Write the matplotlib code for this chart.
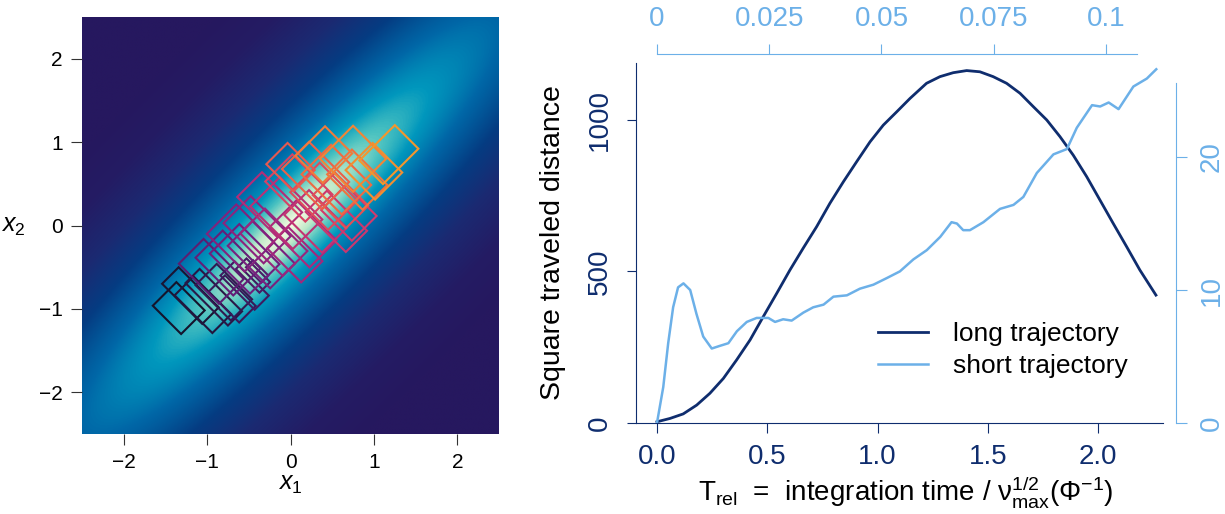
import numpy as np
import matplotlib
matplotlib.use("Agg")
import matplotlib.pyplot as plt
from matplotlib.colors import LinearSegmentedColormap
from matplotlib.patches import Polygon
from matplotlib.lines import Line2D

plt.rcParams['font.family'] = ['Liberation Sans', 'DejaVu Sans']
plt.rcParams['mathtext.fontset'] = 'custom'
plt.rcParams['mathtext.rm'] = 'Liberation Sans'
plt.rcParams['mathtext.it'] = 'Liberation Sans:italic'
plt.rcParams['mathtext.bf'] = 'Liberation Sans:bold'

# ---- left panel: correlated gaussian (sd along / across the diagonal)
sd_along = 1.5
sd_across = 0.3

# rectangles along the trajectory: centre x1, centre x2, half size along diagonal, half size across
rect_x1 = [-1.34, -1.20, -1.05, -0.92, -0.80, -0.70, -0.55, -0.45, -0.40,
           -0.95, -0.75, -0.55, -0.35, -0.60, -0.40, -0.20, 0.05, 0.15,
           -0.25, -0.05, 0.30, 0.55, 0.70, 0.10, 0.40, 0.60, 0.00, 0.30,
           0.55, 0.80, 0.40, 0.75, 1.00, 1.18]
rect_x2 = [-0.99, -0.84, -0.95, -0.86, -0.80, -0.88, -0.72, -0.60, -0.55,
           -0.55, -0.45, -0.40, -0.35, -0.15, -0.05, -0.20, -0.35, -0.10,
           0.25, 0.15, 0.05, 0.05, 0.15, 0.45, 0.35, 0.30, 0.70, 0.60,
           0.55, 0.55, 0.85, 0.80, 0.65, 0.85]
rect_a = [0.20, 0.14, 0.16, 0.12, 0.18, 0.14, 0.12, 0.09, 0.06,
          0.21, 0.23, 0.25, 0.21, 0.25, 0.23, 0.21, 0.18, 0.23,
          0.21, 0.25, 0.21, 0.18, 0.21, 0.23, 0.25, 0.19, 0.18, 0.23,
          0.25, 0.21, 0.25, 0.28, 0.23, 0.30]
rect_b = [0.24, 0.34, 0.32, 0.36, 0.30, 0.26, 0.29, 0.20, 0.13,
          0.34, 0.32, 0.34, 0.36, 0.32, 0.34, 0.36, 0.29, 0.34,
          0.34, 0.36, 0.32, 0.34, 0.26, 0.34, 0.32, 0.28, 0.23, 0.34,
          0.34, 0.30, 0.23, 0.28, 0.25, 0.20]

# ---- right panel: long trajectory (bottom / left axes)
T_long = [0, 0.059, 0.119, 0.180, 0.240, 0.301, 0.361, 0.422, 0.482, 0.543,
          0.603, 0.663, 0.724, 0.784, 0.845, 0.905, 0.966, 1.026, 1.087,
          1.147, 1.222, 1.283, 1.343, 1.404, 1.464, 1.524, 1.585, 1.646,
          1.706, 1.767, 1.827, 1.887, 1.948, 2.008, 2.068, 2.129, 2.189, 2.262]
D_long = [4, 15, 30, 59, 98, 147, 208, 274, 351, 428, 505, 577, 648, 725,
          796, 862, 928, 983, 1027, 1071, 1121, 1143, 1156, 1163, 1159, 1143,
          1121, 1088, 1044, 1000, 945, 884, 813, 736, 659, 582, 505, 422]

# short trajectory (top / right axes)
t_short = [0, 0.0014, 0.0025, 0.0036, 0.0047, 0.0059, 0.0074, 0.0088, 0.0103,
           0.0122, 0.0140, 0.0159, 0.0178, 0.0200, 0.0222, 0.0248, 0.0263,
           0.0281, 0.0300, 0.0326, 0.0348, 0.0371, 0.0393, 0.0423, 0.0452,
           0.0482, 0.0512, 0.0541, 0.0571, 0.0601, 0.0631, 0.0656, 0.0668,
           0.0682, 0.0697, 0.0727, 0.0764, 0.0794, 0.0816, 0.0846, 0.0883,
           0.0913, 0.0935, 0.0969, 0.0987, 0.1006, 0.1028, 0.1061, 0.1091, 0.1112]
D_short = [0, 2.7, 6.0, 8.7, 10.2, 10.5, 10.0, 8.2, 6.5, 5.6, 5.8, 6.0, 6.9,
           7.6, 7.9, 7.9, 7.6, 7.8, 7.7, 8.3, 8.7, 8.9, 9.5, 9.6, 10.1, 10.4,
           10.9, 11.4, 12.3, 13.0, 14.0, 15.1, 15.0, 14.5, 14.5, 15.1, 16.1,
           16.4, 17.0, 18.8, 20.2, 20.6, 22.2, 23.9, 23.8, 24.1, 23.6, 25.3,
           25.9, 26.6]

navy = '#0F2D6E'
light = '#6CB0E8'

bg_cmap = LinearSegmentedColormap.from_list('bg', [
    (0.0, '#F6FBE2'), (0.0625, '#BDE9C9'), (0.125, '#4DC3C1'), (0.19, '#0097BD'),
    (0.29, '#0067A7'), (0.44, '#053C82'), (0.60, '#1B2A72'), (0.80, '#241C64'),
    (1.0, '#26185F')])
sq_cmap = LinearSegmentedColormap.from_list('sq', [
    '#14142c', '#3b1b5e', '#6e1f7e', '#a8287c', '#d23a6c', '#ee6545', '#f5962c'])

W, H = 1225, 514
fig = plt.figure(figsize=(W / 100, H / 100), dpi=100)

# left panel
axL = fig.add_axes([82 / W, (H - 434) / H, 417 / W, 417 / H])
g = np.linspace(-2.5, 2.5, 500)
X1, X2 = np.meshgrid(g, g)
u = (X1 + X2) / np.sqrt(2)
v = (X1 - X2) / np.sqrt(2)
r = np.sqrt((u / sd_along) ** 2 + (v / sd_across) ** 2)
axL.imshow(np.clip(r / 8, 0, 1), extent=(-2.5, 2.5, -2.5, 2.5), origin='lower',
           cmap=bg_cmap, vmin=0, vmax=1, interpolation='bilinear', aspect='auto')

eu = np.array([1, 1]) / np.sqrt(2)
ev = np.array([1, -1]) / np.sqrt(2)
n = len(rect_x1)
for i in range(n):
    c = np.array([rect_x1[i], rect_x2[i]])
    a, b = rect_a[i], rect_b[i]
    pts = [c + a * eu + b * ev, c + a * eu - b * ev, c - a * eu - b * ev, c - a * eu + b * ev]
    axL.add_patch(Polygon(pts, closed=True, fill=False, lw=1.5,
                          edgecolor=sq_cmap(i / (n - 1))))
axL.set_xlim(-2.5, 2.5)
axL.set_ylim(-2.5, 2.5)
for s in axL.spines.values():
    s.set_visible(False)
axL.set_xticks([-2, -1, 0, 1, 2])
axL.set_yticks([-2, -1, 0, 1, 2])
axL.tick_params(length=8, width=0.8, color='#333333', labelsize=15, pad=6)
axL.set_xlabel(r'$x_1$', fontsize=18, labelpad=0)
axL.set_ylabel(r'$x_2$', fontsize=18, rotation=0, labelpad=18, va='center')

# right panel
rect = [636 / W, (H - 423) / H, (1163 - 636) / W, 360 / H]
ax = fig.add_axes(rect)
ax.plot(T_long, D_long, color=navy, lw=2.0)
ax.set_xlim(-0.095, 2.294)
ax.set_ylim(0, 1188)
ax.spines['top'].set_visible(False)
ax.spines['right'].set_visible(False)
for s in ('left', 'bottom'):
    ax.spines[s].set_color(navy)
ax.set_xticks([0, 0.5, 1, 1.5, 2])
ax.set_xticklabels(['0.0', '0.5', '1.0', '1.5', '2.0'])
ax.set_yticks([0, 500, 1000])
ax.set_yticklabels(['0', '500', '1000'], rotation=90, va='center')
ax.tick_params(axis='x', length=7, color=navy, labelcolor=navy, labelsize=20, pad=8)
ax.tick_params(axis='y', length=6.5, color=navy, labelcolor=navy, labelsize=20, pad=10)

ax2 = fig.add_axes(rect)
ax2.patch.set_visible(False)
ax2.plot(t_short, D_short, color=light, lw=1.8)
ax2.set_xlim(-0.00467, 0.1127)
ax2.set_ylim(0, 27.07)
ax2.xaxis.tick_top()
ax2.yaxis.tick_right()
ax2.spines['left'].set_visible(False)
ax2.spines['bottom'].set_visible(False)
ax2.spines['top'].set_position(('outward', 6.5))
ax2.spines['top'].set_bounds(0, 0.107)
ax2.spines['right'].set_position(('outward', 9.4))
ax2.spines['right'].set_bounds(0, 25.56)
for s in ('top', 'right'):
    ax2.spines[s].set_color(light)
ax2.set_xticks([0, 0.025, 0.05, 0.075, 0.1])
ax2.set_xticklabels(['0', '0.025', '0.05', '0.075', '0.1'])
ax2.set_yticks([0, 10, 20])
ax2.set_yticklabels(['0', '10', '20'], rotation=90, va='center')
ax2.tick_params(axis='x', length=7, color=light, labelcolor=light, labelsize=20, pad=9)
ax2.tick_params(axis='y', length=8, color=light, labelcolor=light, labelsize=20, pad=8.5)

handles = [Line2D([], [], color=navy, lw=2.0), Line2D([], [], color=light, lw=1.8)]
ax2.legend(handles, ['long trajectory', 'short trajectory'], loc='upper left',
           bbox_to_anchor=(878 / W, 1 - 322 / H), bbox_transform=fig.transFigure,
           frameon=False, fontsize=19, handlelength=1.9, handletextpad=0.95,
           labelspacing=0.32, borderpad=0, borderaxespad=0)

fig.text(553 / W, 1 - 243 / H, 'Square traveled distance', rotation=90,
         ha='center', va='center', fontsize=20.5)
fig.text(906 / W, 1 - 492 / H,
         r'T$_{\mathrm{rel}}$  =  integration time / $\mathrm{\nu}_{\mathrm{max}}^{1/2}(\Phi^{-1})$',
         ha='center', va='center', fontsize=20)

fig.savefig('out.png', dpi=100)
